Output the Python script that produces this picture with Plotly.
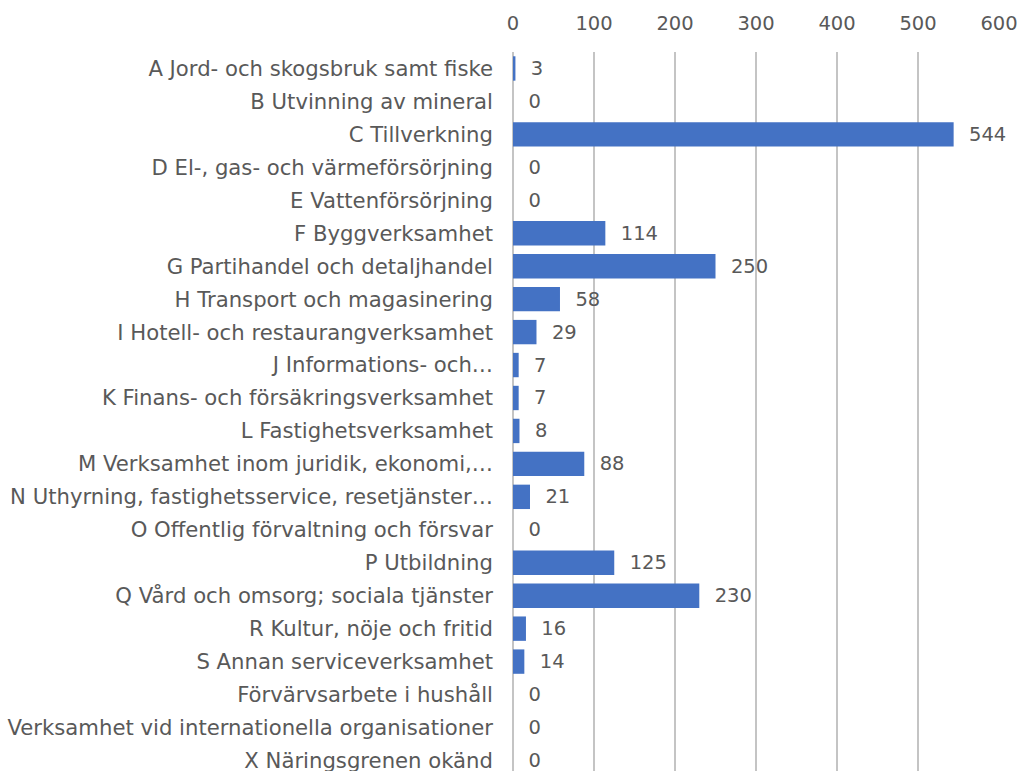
import plotly.graph_objects as go

categories = [
    "A Jord- och skogsbruk samt fiske",
    "B Utvinning av mineral",
    "C Tillverkning",
    "D El-, gas- och värmeförsörjning",
    "E Vattenförsörjning",
    "F Byggverksamhet",
    "G Partihandel och detaljhandel",
    "H Transport och magasinering",
    "I Hotell- och restaurangverksamhet",
    "J Informations- och…",
    "K Finans- och försäkringsverksamhet",
    "L Fastighetsverksamhet",
    "M Verksamhet inom juridik, ekonomi,…",
    "N Uthyrning, fastighetsservice, resetjänster…",
    "O Offentlig förvaltning och försvar",
    "P Utbildning",
    "Q Vård och omsorg; sociala tjänster",
    "R Kultur, nöje och fritid",
    "S Annan serviceverksamhet",
    "Förvärvsarbete i hushåll",
    "Verksamhet vid internationella organisationer",
    "X Näringsgrenen okänd",
]
values = [3, 0, 544, 0, 0, 114, 250, 58, 29, 7, 7, 8, 88, 21, 0, 125, 230, 16, 14, 0, 0, 0]
x_ticks = [0, 100, 200, 300, 400, 500, 600]

FONT = "DejaVu Sans, Verdana, sans-serif"
GRAY = "#595959"
GRID = "#c4c4c4"

fig = go.Figure(
    go.Bar(
        x=values,
        y=categories,
        orientation="h",
        marker=dict(color="#4472C4", line=dict(width=0)),
        width=0.74,
        texttemplate="\u00a0\u00a0%{x}",
        textposition="outside",
        textfont=dict(family=FONT, size=19.5, color=GRAY),
        cliponaxis=False,
    )
)

fig.update_layout(
    width=1019,
    height=771,
    paper_bgcolor="white",
    plot_bgcolor="white",
    margin=dict(l=513, r=20, t=52, b=0),
    showlegend=False,
    font=dict(family=FONT, size=19.5, color=GRAY),
    xaxis=dict(
        side="top",
        range=[0, 600],
        tickvals=x_ticks,
        showgrid=True,
        gridcolor=GRID,
        gridwidth=2,
        zeroline=True,
        zerolinecolor=GRID,
        zerolinewidth=2,
        ticks="",
        automargin=False,
        tickfont=dict(family=FONT, size=19.5, color=GRAY),
        ticklabelstandoff=17,
    ),
    yaxis=dict(
        type="category",
        categoryorder="array",
        categoryarray=categories,
        range=[21.32, -0.5],
        showgrid=False,
        zeroline=False,
        ticks="",
        automargin=False,
        ticklabelstandoff=19,
        tickfont=dict(family=FONT, size=21.2, color=GRAY),
    ),
)

fig.write_html(
    "out.html",
    config={"displayModeBar": False},
    post_script="document.body.style.margin='0';document.body.style.overflow='hidden';",
)
